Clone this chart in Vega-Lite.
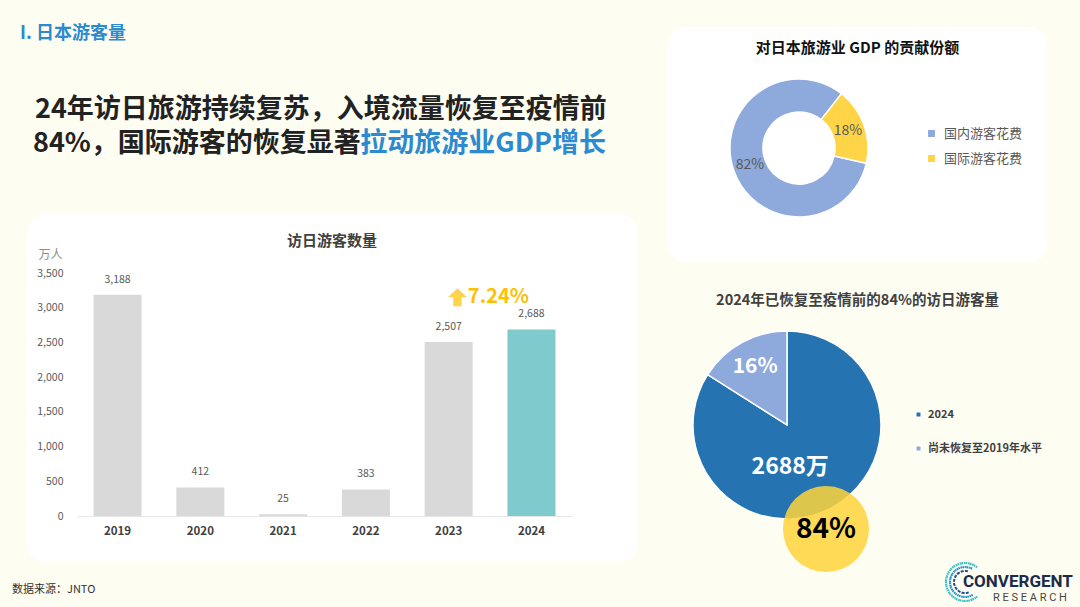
{
  "$schema": "https://vega.github.io/schema/vega-lite/v6.json",
  "background": "#FEFDF2",
  "padding": {"left": 12, "top": 25, "right": 8, "bottom": 0},
  "autosize": {"type": "pad"},
  "config": {
    "font": "Noto Sans CJK SC",
    "view": {"stroke": null}
  },
  "spacing": 31,
  "hconcat": [
    {
      "bounds": "flush",
      "spacing": 0,
      "vconcat": [
        {
          "width": 610,
          "height": 187,
          "layer": [
            {
              "data": {"values": [{"t": "I. 日本游客量"}]},
              "mark": {"type": "text", "x": -7, "y": 7, "align": "left", "baseline": "middle", "fontSize": 18, "fontWeight": "bold", "color": "#2B8AD0"},
              "encoding": {"text": {"field": "t", "type": "nominal"}}
            },
            {
              "data": {"values": [{"t": "24年访日旅游持续复苏，入境流量恢复至疫情前"}]},
              "mark": {"type": "text", "x": 8, "y": 83, "align": "left", "baseline": "middle", "fontSize": 27, "fontWeight": "bold", "color": "#222222"},
              "encoding": {"text": {"field": "t", "type": "nominal"}}
            },
            {
              "data": {"values": [{"t": "84%，国际游客的恢复显著"}]},
              "mark": {"type": "text", "x": 6, "y": 117, "align": "left", "baseline": "middle", "fontSize": 27, "fontWeight": "bold", "color": "#222222"},
              "encoding": {"text": {"field": "t", "type": "nominal"}}
            },
            {
              "data": {"values": [{"t": "拉动旅游业GDP增长"}]},
              "mark": {"type": "text", "x": 579, "y": 117, "align": "right", "baseline": "middle", "fontSize": 27, "fontWeight": "bold", "color": "#2B8AD0"},
              "encoding": {"text": {"field": "t", "type": "nominal"}}
            }
          ]
        },
        {
          "width": 610,
          "height": 348,
          "view": {"fill": "white", "cornerRadius": 18},
          "title": {"text": "访日游客数量", "offset": -35, "fontSize": 15, "fontWeight": "bold", "color": "#404040"},
          "layer": [
            {
              "data": {"name": "visitors"},
              "mark": {"type": "bar"},
              "encoding": {
                "x": {
                  "field": "year", "type": "ordinal",
                  "scale": {"range": [50, 545], "paddingInner": 0.42, "paddingOuter": 0.2},
                  "axis": {"title": null, "offset": -46, "labelPadding": 9, "ticks": false, "labelAngle": 0, "labelFontWeight": "bold", "labelFontSize": 11.5, "labelColor": "#404040", "domainColor": "#E6E6E6"}
                },
                "y": {
                  "field": "visitors", "type": "quantitative",
                  "scale": {"domain": [0, 3500], "range": [302, 59]},
                  "axis": {
                    "title": "万人", "offset": -40, "grid": false, "domain": false, "ticks": false, "tickSize": 0, "labelPadding": 4,
                    "values": [0, 500, 1000, 1500, 2000, 2500, 3000, 3500], "format": ",.0f",
                    "labelFontSize": 10.5, "labelColor": "#595959",
                    "titleAngle": 0, "titleX": -17, "titleY": 40, "titleAlign": "center", "titleBaseline": "middle",
                    "titleFontWeight": "normal", "titleFontSize": 12, "titleColor": "#8C8C8C"
                  }
                },
                "color": {"condition": {"test": "datum.year == '2024'", "value": "#7ECACD"}, "value": "#D9D9D9"}
              }
            },
            {
              "data": {"name": "visitors"},
              "mark": {"type": "text", "dy": -10, "baseline": "bottom", "fontSize": 10.5, "color": "#595959"},
              "encoding": {
                "x": {"field": "year", "type": "ordinal"},
                "y": {"field": "visitors", "type": "quantitative"},
                "text": {"field": "visitors", "type": "quantitative", "format": ",.0f"}
              }
            },
            {
              "data": {"values": [{"t": "7.24%"}]},
              "mark": {"type": "text", "dx": -9, "baseline": "middle", "fontSize": 20, "fontWeight": "bold", "color": "#FFC000"},
              "encoding": {
                "x": {"datum": "2024", "type": "ordinal", "bandPosition": 0},
                "y": {"datum": 3150, "type": "quantitative"},
                "text": {"field": "t", "type": "nominal"}
              }
            },
            {
              "data": {"values": [{"t": "up"}]},
              "mark": {"type": "point", "shape": "M0,-0.9L0.95,0L0.42,0L0.42,0.9L-0.42,0.9L-0.42,0L-0.95,0Z", "size": 400, "filled": true, "color": "#FFD447", "opacity": 1, "strokeWidth": 0},
              "encoding": {
                "x": {"datum": "2024", "type": "ordinal", "bandPosition": 0},
                "xOffset": {"value": -50},
                "y": {"datum": 3150, "type": "quantitative"}
              }
            },
            {
              "data": {"values": [{"t": "数据来源：JNTO"}]},
              "mark": {"type": "text", "x": -15, "y": 376, "align": "left", "baseline": "middle", "fontSize": 11, "color": "#333333"},
              "encoding": {"text": {"field": "t", "type": "nominal"}}
            }
          ]
        }
      ]
    },
    {
      "bounds": "flush",
      "spacing": 0,
      "resolve": {"scale": {"color": "independent", "theta": "independent"}},
      "vconcat": [
        {
          "width": 379,
          "height": 235,
          "view": {"fill": "white", "cornerRadius": 18},
          "title": {"text": "对日本旅游业 GDP 的贡献份额", "offset": -29, "fontSize": 15, "fontWeight": "bold", "color": "#111111"},
          "data": {"values": [
            {"cat": "国内游客花费", "share": 0.82},
            {"cat": "国际游客花费", "share": 0.18}
          ]},
          "encoding": {
            "theta": {"field": "share", "type": "quantitative", "stack": true, "scale": {"range": [1.795, 8.078]}},
            "order": {"field": "share", "type": "quantitative", "sort": "descending"}
          },
          "layer": [
            {
              "mark": {"type": "arc", "x": 131, "y": 121, "innerRadius": 36, "outerRadius": 69, "stroke": "white", "strokeWidth": 1.5},
              "encoding": {
                "color": {
                  "field": "cat", "type": "nominal",
                  "scale": {"domain": ["国内游客花费", "国际游客花费"], "range": ["#8EA9DB", "#FFD447"]},
                  "legend": {"title": null, "orient": "none", "legendX": 257, "legendY": 100, "symbolType": "square", "symbolSize": 70, "labelFontSize": 13, "labelColor": "#595959", "rowPadding": 10, "labelOffset": 6}
                }
              }
            },
            {
              "mark": {"type": "text", "x": 131, "y": 121, "radius": 52, "fontSize": 14, "color": "#595959"},
              "encoding": {
                "detail": {"field": "cat", "type": "nominal"},
                "text": {"field": "share", "type": "quantitative", "format": ".0%"}
              }
            }
          ]
        },
        {
          "width": 379,
          "height": 347,
          "title": {"text": "2024年已恢复至疫情前的84%的访日游客量", "offset": -46, "fontSize": 14.5, "fontWeight": "bold", "color": "#404040"},
          "layer": [
            {
              "data": {"name": "recovery"},
              "mark": {"type": "arc", "x": 119, "y": 163, "outerRadius": 94, "stroke": "white", "strokeWidth": 1.5},
              "encoding": {
                "theta": {"field": "share", "type": "quantitative", "stack": true},
                "order": {"field": "share", "type": "quantitative", "sort": "descending"},
                "color": {
                  "field": "cat", "type": "nominal",
                  "scale": {"domain": ["2024", "尚未恢复至2019年水平"], "range": ["#2573B1", "#8EA9DB"]},
                  "legend": {"title": null, "orient": "none", "legendX": 245, "legendY": 147, "symbolType": "square", "symbolSize": 30, "labelFontSize": 11, "labelFontWeight": "bold", "labelColor": "#404040", "rowPadding": 21, "labelOffset": 4}
                }
              }
            },
            {
              "data": {"name": "recovery"},
              "mark": {"type": "text", "x": 119, "y": 163, "radius": 66, "fontSize": 21, "fontWeight": "bold", "color": "white"},
              "encoding": {
                "theta": {"field": "share", "type": "quantitative", "stack": true},
                "order": {"field": "share", "type": "quantitative", "sort": "descending"},
                "detail": {"field": "cat", "type": "nominal"},
                "text": {"condition": {"test": "datum.cat != '2024'", "field": "label", "type": "nominal"}, "value": ""}
              }
            },
            {
              "data": {"name": "recovery"},
              "mark": {"type": "text", "x": 119, "y": 163, "radius": 42, "dx": -17, "dy": 5, "fontSize": 23, "fontWeight": "bold", "color": "white"},
              "encoding": {
                "theta": {"field": "share", "type": "quantitative", "stack": true},
                "order": {"field": "share", "type": "quantitative", "sort": "descending"},
                "detail": {"field": "cat", "type": "nominal"},
                "text": {"condition": {"test": "datum.cat == '2024'", "field": "label", "type": "nominal"}, "value": ""}
              }
            },
            {
              "data": {"values": [{"t": "84%"}]},
              "mark": {"type": "point", "x": 158, "y": 267, "shape": "circle", "size": 7400, "filled": true, "fill": "#FFD43B", "opacity": 0.85, "strokeWidth": 0},
              "encoding": {}
            },
            {
              "data": {"values": [{"t": "84%"}]},
              "mark": {"type": "text", "x": 158, "y": 268, "baseline": "middle", "fontSize": 28, "fontWeight": "bold", "color": "#000000"},
              "encoding": {"text": {"field": "t", "type": "nominal"}}
            },
            {
              "data": {"values": [{"r": 19}]},
              "mark": {"type": "arc", "x": 297, "y": 320, "theta": 2.44, "theta2": 6.98, "innerRadius": 19, "outerRadius": 19, "fill": "transparent", "stroke": "#3BBFC4", "strokeWidth": 2.2, "strokeDash": [1.6, 2.6]},
              "encoding": {}
            },
            {
              "data": {"values": [{"r": 15}]},
              "mark": {"type": "arc", "x": 297, "y": 320, "theta": 2.6, "theta2": 6.8, "innerRadius": 15, "outerRadius": 15, "fill": "transparent", "stroke": "#2A8FD0", "strokeWidth": 2.2, "strokeDash": [1.6, 2.6]},
              "encoding": {}
            },
            {
              "data": {"values": [{"r": 11}]},
              "mark": {"type": "arc", "x": 297, "y": 320, "theta": 2.8, "theta2": 6.6, "innerRadius": 11, "outerRadius": 11, "fill": "transparent", "stroke": "#1D4E8F", "strokeWidth": 2, "strokeDash": [1.6, 2.6]},
              "encoding": {}
            },
            {
              "data": {"values": [{"t": "CONVERGENT"}]},
              "mark": {"type": "text", "x": 295, "y": 320, "align": "left", "baseline": "middle", "font": "Roboto", "fontSize": 17, "fontWeight": "bold", "color": "#1C2B4A"},
              "encoding": {"text": {"field": "t", "type": "nominal"}}
            },
            {
              "data": {"values": [{"t": "R E S E A R C H"}]},
              "mark": {"type": "text", "x": 325, "y": 336, "align": "left", "baseline": "middle", "font": "Roboto", "fontSize": 11, "color": "#444444"},
              "encoding": {"text": {"field": "t", "type": "nominal"}}
            }
          ]
        }
      ]
    }
  ],
  "datasets": {
    "visitors": [
      {"year": "2019", "visitors": 3188},
      {"year": "2020", "visitors": 412},
      {"year": "2021", "visitors": 25},
      {"year": "2022", "visitors": 383},
      {"year": "2023", "visitors": 2507},
      {"year": "2024", "visitors": 2688}
    ],
    "recovery": [
      {"cat": "2024", "share": 0.84, "label": "2688万"},
      {"cat": "尚未恢复至2019年水平", "share": 0.16, "label": "16%"}
    ]
  }
}
